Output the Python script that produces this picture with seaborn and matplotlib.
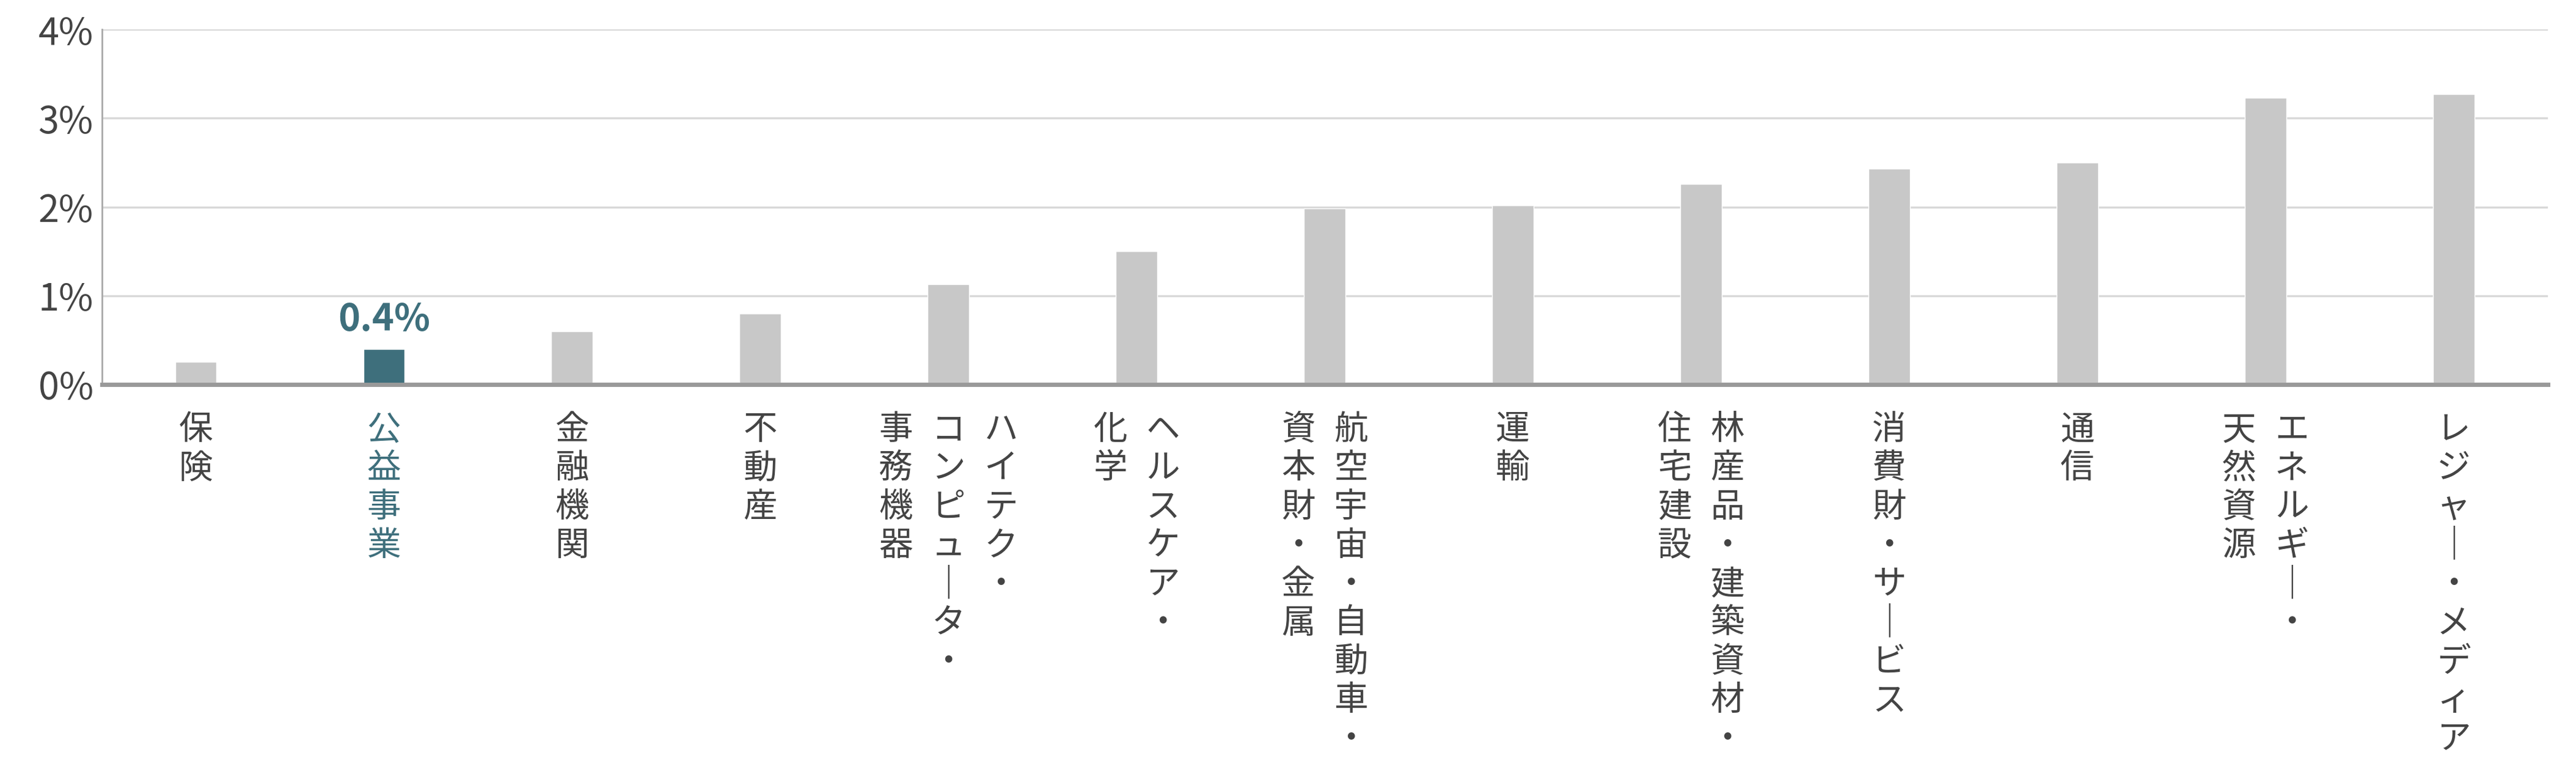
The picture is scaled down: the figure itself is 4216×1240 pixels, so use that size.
import matplotlib
matplotlib.use("Agg")
import matplotlib.pyplot as plt
import seaborn as sns
import pandas as pd
import numpy as np

sns.set_theme(style="white")
plt.rcParams['font.family'] = ['Noto Sans CJK JP', 'DejaVu Sans']

categories = ["保険", "公益事業", "金融機関", "不動産", "ハイテク・コンピュータ・事務機器",
              "ヘルスケア・化学", "航空宇宙・自動車・資本財・金属", "運輸", "林産品・建築資材・住宅建設",
              "消費財・サービス", "通信", "エネルギー・天然資源", "レジャー・メディア"]
# label columns (right to left)
label_columns = [["保険"], ["公益事業"], ["金融機関"], ["不動産"],
                 ["ハイテク・", "コンピュータ・", "事務機器"],
                 ["ヘルスケア・", "化学"],
                 ["航空宇宙・自動車・", "資本財・金属"],
                 ["運輸"],
                 ["林産品・建築資材・", "住宅建設"],
                 ["消費財・サービス"], ["通信"],
                 ["エネルギー・", "天然資源"],
                 ["レジャー・メディア"]]
values = [0.25, 0.40, 0.60, 0.80, 1.13, 1.50, 1.98, 2.02, 2.26, 2.43, 2.50, 3.23, 3.27]
yticks = [0, 1, 2, 3, 4]
ytick_labels = ["0%", "1%", "2%", "3%", "4%"]
highlight = "公益事業"
highlight_label = "0.4%"

teal = "#3e6f7c"
grey = "#c8c8c8"
text_col = "#444444"

df = pd.DataFrame({"cat": categories, "val": values,
                   "hl": ["yes" if c == highlight else "no" for c in categories]})

fig = plt.figure(figsize=(42.16, 12.4), dpi=100)
ax = fig.add_axes([0.0395, 0.493, 0.9495, 0.468])
sns.barplot(data=df, x="cat", y="val", hue="hl", palette={"yes": teal, "no": grey},
            width=0.22, dodge=False, legend=False, ax=ax, saturation=1)

ax.set_xlim(-0.5, len(categories) - 0.5)
ax.set_ylim(0, 4)
ax.set_yticks(yticks)
ax.set_yticklabels(ytick_labels, fontsize=44, color=text_col)
ax.grid(axis='y', color="#d9d9d9", linewidth=2.5)
ax.set_axisbelow(True)
ax.set_xlabel("")
ax.set_ylabel("")
ax.set_xticks([])
ax.set_xticks(np.arange(-0.5, len(categories)), minor=True)
ax.tick_params(axis='x', which='minor', length=14, width=2, color="#aaaaaa", labelbottom=False)
ax.tick_params(axis='y', length=0, pad=10)
for s in ["top", "right"]:
    ax.spines[s].set_visible(False)
ax.spines["left"].set_color("#aaaaaa")
ax.spines["left"].set_linewidth(2)
ax.spines["bottom"].set_color("#999999")
ax.spines["bottom"].set_linewidth(5)

col_gap = 62
for i, cols in enumerate(label_columns):
    n = len(cols)
    color = teal if categories[i] == highlight else text_col
    for k, col in enumerate(cols):
        off = ((n - 1) / 2 - k) * col_gap
        txt = "\n".join(ch if ch != "ー" else "｜" for ch in col)
        ax.annotate(txt, xy=(i, 0), xycoords=('data', 'axes fraction'),
                    xytext=(off, -33), textcoords='offset points',
                    ha='center', va='top', fontsize=40, color=color, linespacing=1.13)

hi = categories.index(highlight)
ax.annotate(highlight_label, xy=(hi, values[hi]), xytext=(0, 12), textcoords='offset points',
            ha='center', va='bottom', fontsize=44, fontweight='bold', color=teal)

fig.savefig("out.png", dpi=100)
